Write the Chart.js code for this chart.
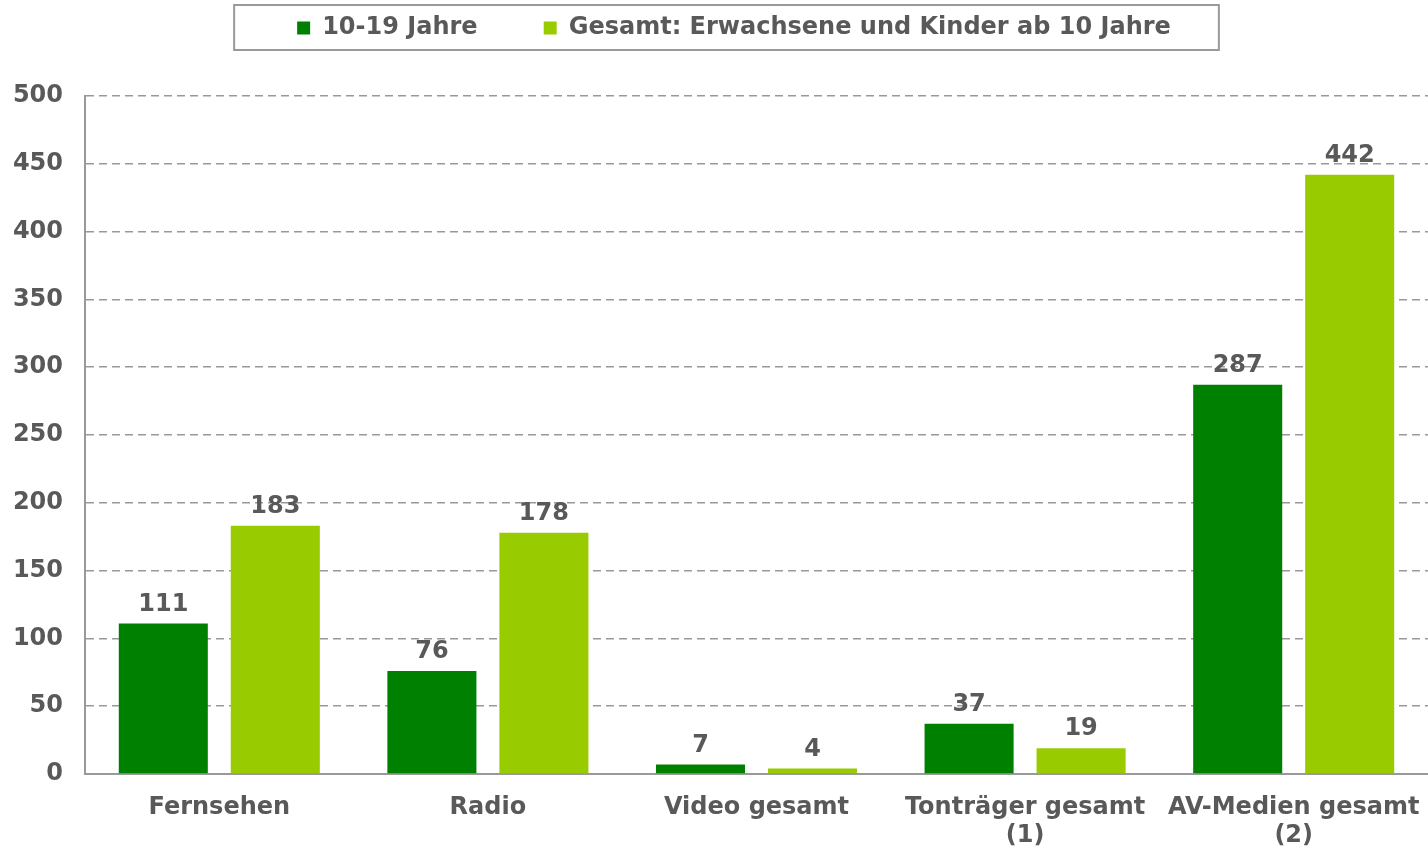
<!DOCTYPE html>
<html>
<head>
<meta charset="utf-8">
<script src="https://cdn.jsdelivr.net/npm/chart.js@4/dist/chart.umd.min.js"></script>
<style>
  html, body { margin: 0; padding: 0; background: #fff; }
  #wrap { width: 1428px; height: 850px; }
</style>
</head>
<body>
<div id="wrap"><canvas id="myChart"></canvas></div>
<script>
const categories = ['Fernsehen', 'Radio', 'Video gesamt', ['Tonträger gesamt', '(1)'], ['AV-Medien gesamt', '(2)']];
const teens = [111, 76, 7, 37, 287];
const total = [183, 178, 4, 19, 442];
const seriesNames = ['10-19 Jahre', 'Gesamt: Erwachsene und Kinder ab 10 Jahre'];

const textColor = '#595959';
const font = { family: 'DejaVu Sans', weight: 'bold', size: 24 };

// values above the bars
const valueLabels = {
  id: 'valueLabels',
  afterDatasetsDraw(chart) {
    const ctx = chart.ctx;
    ctx.save();
    ctx.font = 'bold 24px "DejaVu Sans"';
    ctx.fillStyle = textColor;
    ctx.textAlign = 'center';
    ctx.textBaseline = 'bottom';
    chart.data.datasets.forEach((ds, i) => {
      chart.getDatasetMeta(i).data.forEach((bar, j) => {
        ctx.fillText(ds.data[j], bar.x, bar.y - 7);
      });
    });
    ctx.restore();
  }
};

// legend: fixed height, nudged right, frame round it
const legendBox = {
  id: 'legendBox',
  beforeLayout(chart) {
    const lg = chart.legend;
    if (lg && !lg._fixed) {
      const fit = lg.fit.bind(lg);
      lg.fit = function () { fit(); this.height = 96; };
      lg._fixed = true;
    }
  },
  afterLayout(chart) {
    chart.legend.left += 20;
    chart.legend.right += 20;
  },
  afterDraw(chart) {
    const boxes = chart.legend.legendHitBoxes;
    if (!boxes || !boxes.length) return;
    const left = Math.min(...boxes.map(b => b.left)) - 63;
    const right = Math.max(...boxes.map(b => b.left + b.width)) + 48;
    const ctx = chart.ctx;
    ctx.save();
    ctx.strokeStyle = '#999';
    ctx.lineWidth = 2;
    ctx.strokeRect(left, 5, right - left, 45);
    ctx.restore();
  }
};

const data = {
  labels: categories,
  datasets: [
    { label: seriesNames[0], data: teens, backgroundColor: '#008000' },
    { label: seriesNames[1], data: total, backgroundColor: '#99CC00' }
  ]
};

const config = {
  type: 'bar',
  data: data,
  plugins: [valueLabels, legendBox],
  options: {
    responsive: true,
    maintainAspectRatio: false,
    animation: false,
    categoryPercentage: 0.834,
    barPercentage: 0.795,
    layout: { padding: 0 },
    plugins: {
      tooltip: { enabled: false },
      legend: {
        position: 'top',
        labels: {
          color: textColor,
          font: font,
          boxWidth: 13,
          boxHeight: 13,
          padding: 16,
          generateLabels(chart) {
            const items = Chart.defaults.plugins.legend.labels.generateLabels(chart);
            // wider gap after the first entry
            items[0].text = items[0].text + '      ';
            return items;
          }
        }
      }
    },
    scales: {
      x: {
        grid: { display: false },
        border: { display: true, color: '#999', width: 2 },
        ticks: { color: textColor, font: font, padding: 11, maxRotation: 0, autoSkip: false },
        afterFit(scale) {
          scale.height = 76;
          scale.paddingLeft = 0;
          scale.paddingRight = 0;
        }
      },
      y: {
        min: 0,
        max: 500,
        ticks: { stepSize: 50, color: textColor, font: font, padding: 22 },
        grid: { color: '#999', lineWidth: 1.5, drawTicks: false },
        border: { display: true, color: '#999', width: 2, dash: [8, 5] },
        afterFit(scale) {
          scale.width = 85;
        }
      }
    }
  }
};

const myChart = new Chart(document.getElementById('myChart'), config);
</script>
</body>
</html>
